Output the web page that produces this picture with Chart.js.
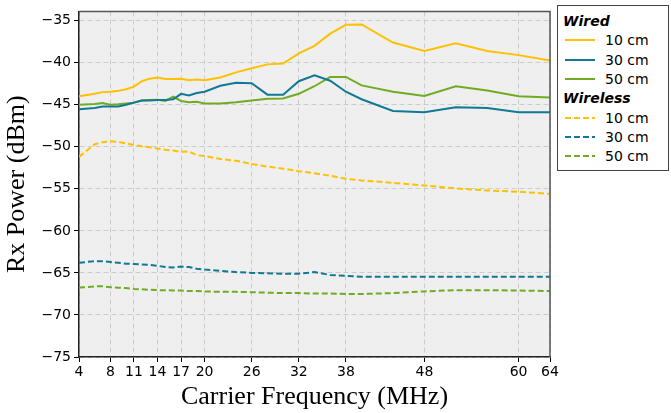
<!DOCTYPE html>
<html>
<head>
<meta charset="utf-8">
<script src="https://cdn.jsdelivr.net/npm/chart.js@4"></script>
<style>
  body { margin: 0; background: #fff; }
  #wrap { position: relative; width: 671px; height: 413px; }
  #leyenda {
    position: absolute; left: 557px; top: 5px; width: 112px; height: 166px;
    border: 1px solid #444; box-sizing: border-box; background: #fff;
    font-family: 'DejaVu Sans', sans-serif; font-size: 14px; color: #000;
  }
  #leyenda .head { position: absolute; left: 5px; font-weight: bold; font-style: italic; line-height: 16px; }
  #leyenda .row { position: absolute; left: 7px; height: 16px; line-height: 16px; white-space: nowrap; }
  #leyenda .row svg { position: absolute; left: 0; top: 6px; }
  #leyenda .row span { position: absolute; left: 40px; }
</style>
</head>
<body>
<div id="wrap">
  <canvas id="grafica" width="671" height="413"></canvas>
  <div id="leyenda"></div>
</div>
<script>
// Datos
const frecuencias = [4, 6, 7, 8, 9, 10, 11, 12, 13, 14, 15, 16, 17, 18, 19, 20, 22, 24, 26, 28, 30, 32, 34, 36, 38, 40, 44, 48, 52, 56, 60, 64]
const ticksX = [4, 8, 11, 14, 17, 20, 26, 32, 38, 48, 60, 64]
const ticksY = [-75, -70, -65, -60, -55, -50, -45, -40, -35]

const cable10 = [-44.0, -43.7, -43.5, -43.45, -43.35, -43.15, -42.85, -42.2, -41.9, -41.75, -41.95, -41.95, -41.9, -42.1, -42.0, -42.1, -41.75, -41.15, -40.65, -40.2, -40.1, -38.9, -38.0, -36.55, -35.5, -35.45, -37.6, -38.6, -37.7, -38.6, -39.1, -39.75]
const cable30 = [-45.55, -45.4, -45.2, -45.2, -45.2, -45.0, -44.75, -44.5, -44.5, -44.45, -44.45, -44.35, -43.7, -43.9, -43.6, -43.45, -42.75, -42.4, -42.45, -43.8, -43.8, -42.2, -41.5, -42.15, -43.45, -44.35, -45.75, -45.9, -45.3, -45.4, -45.9, -45.9]
const cable50 = [-45.0, -44.9, -44.8, -45.0, -44.95, -44.85, -44.75, -44.5, -44.45, -44.4, -44.55, -44.05, -44.55, -44.7, -44.65, -44.85, -44.85, -44.7, -44.5, -44.3, -44.25, -43.7, -42.8, -41.7, -41.7, -42.7, -43.45, -43.95, -42.8, -43.3, -44.0, -44.15]
const inal10 = [-51.2, -49.7, -49.45, -49.35, -49.4, -49.6, -49.8, -49.95, -50.05, -50.2, -50.35, -50.45, -50.6, -50.55, -51.0, -51.1, -51.45, -51.65, -52.05, -52.35, -52.6, -52.9, -53.15, -53.45, -53.8, -54.0, -54.3, -54.6, -54.95, -55.2, -55.35, -55.6]
const inal30 = [-63.8, -63.6, -63.6, -63.7, -63.8, -63.9, -63.95, -64.0, -64.05, -64.15, -64.3, -64.35, -64.25, -64.3, -64.5, -64.6, -64.75, -64.9, -65.0, -65.05, -65.1, -65.1, -64.9, -65.25, -65.35, -65.45, -65.45, -65.45, -65.45, -65.45, -65.45, -65.45]
const inal50 = [-66.75, -66.6, -66.6, -66.7, -66.75, -66.8, -66.9, -66.95, -67.0, -67.05, -67.05, -67.1, -67.1, -67.15, -67.15, -67.2, -67.25, -67.25, -67.3, -67.35, -67.4, -67.4, -67.45, -67.45, -67.5, -67.5, -67.4, -67.2, -67.05, -67.05, -67.1, -67.15]

const amarillo = '#ffc000'
const azul = '#117896'
const verde = '#6fac23'
const guion = [6, 3]

const serie = (label, valores, color, dash) => ({
  label,
  data: valores.map((v, i) => ({ x: frecuencias[i], y: v })),
  borderColor: color,
  borderWidth: 2,
  borderDash: dash || [],
  pointRadius: 0,
  tension: 0,
  fill: false
})

// Fondo gris y marco superior/derecho
const fondo = {
  id: 'fondo',
  beforeDraw(chart) {
    const { ctx, chartArea: a } = chart
    ctx.save()
    ctx.fillStyle = '#efefef'
    ctx.fillRect(a.left, a.top, a.right - a.left, a.bottom - a.top)
    ctx.restore()
  },
  afterDraw(chart) {
    const { ctx, chartArea: a } = chart
    ctx.save()
    ctx.strokeStyle = '#555'
    ctx.lineWidth = 1.5
    ctx.beginPath()
    ctx.moveTo(a.left, a.top)
    ctx.lineTo(a.right, a.top)
    ctx.lineTo(a.right, a.bottom)
    ctx.stroke()
    ctx.restore()
  }
}

const fuenteTicks = { family: 'DejaVu Sans', size: 14 }
const fuenteTitulo = { family: 'Liberation Serif', size: 26 }

new Chart(document.getElementById('grafica'), {
  type: 'line',
  data: {
    datasets: [
      serie('Wired 10 cm', cable10, amarillo),
      serie('Wired 30 cm', cable30, azul),
      serie('Wired 50 cm', cable50, verde),
      serie('Wireless 10 cm', inal10, amarillo, guion),
      serie('Wireless 30 cm', inal30, azul, guion),
      serie('Wireless 50 cm', inal50, verde, guion)
    ]
  },
  options: {
    responsive: false,
    animation: false,
    layout: { padding: { left: 0, right: 121, top: 6, bottom: 0 } },
    plugins: { legend: { display: false }, tooltip: { enabled: false } },
    scales: {
      x: {
        type: 'linear',
        min: 4,
        max: 64,
        afterBuildTicks: (s) => { s.ticks = ticksX.map(v => ({ value: v })) },
        afterFit: (s) => { s.height = 56 },
        ticks: { font: fuenteTicks, color: '#000', padding: 2, maxRotation: 0, autoSkip: false },
        grid: { color: '#cccccc', lineWidth: 1, tickColor: '#000', tickLength: 5, tickWidth: 1 },
        border: { color: '#222', width: 1.5, dash: [5, 3] },
        title: { display: true, text: 'Carrier Frequency (MHz)', font: fuenteTitulo, color: '#000', padding: { top: 0, bottom: 0 } }
      },
      y: {
        min: -75,
        max: -33.9,
        afterBuildTicks: (s) => { s.ticks = ticksY.map(v => ({ value: v })) },
        afterFit: (s) => { s.width = 79 },
        ticks: {
          font: fuenteTicks, color: '#000', padding: 3,
          callback: (v) => String(v).replace('-', '\u2212')
        },
        grid: { color: '#cccccc', lineWidth: 1, tickColor: '#000', tickLength: 5, tickWidth: 1 },
        border: { color: '#222', width: 1.5, dash: [5, 3] },
        title: { display: true, text: 'Rx Power (dBm)', font: fuenteTitulo, color: '#000', padding: { top: 2, bottom: 0 } }
      }
    }
  },
  plugins: [fondo]
})

// Leyenda agrupada
const grupos = [
  { titulo: 'Wired', dash: '', filas: [['10 cm', amarillo], ['30 cm', azul], ['50 cm', verde]] },
  { titulo: 'Wireless', dash: '6 3', filas: [['10 cm', amarillo], ['30 cm', azul], ['50 cm', verde]] }
]
const leyenda = document.getElementById('leyenda')
let y = 7
const html = []
grupos.forEach((g) => {
  html.push(`<div class="head" style="top:${y}px">${g.titulo}</div>`)
  y += 19.3
  g.filas.forEach(([txt, color]) => {
    html.push(`<div class="row" style="top:${y}px"><svg width="30" height="4"><line x1="0" y1="2" x2="30" y2="2" stroke="${color}" stroke-width="2" stroke-dasharray="${g.dash}"/></svg><span>${txt}</span></div>`)
    y += 19.3
  })
})
leyenda.innerHTML = html.join('')
</script>
</body>
</html>
